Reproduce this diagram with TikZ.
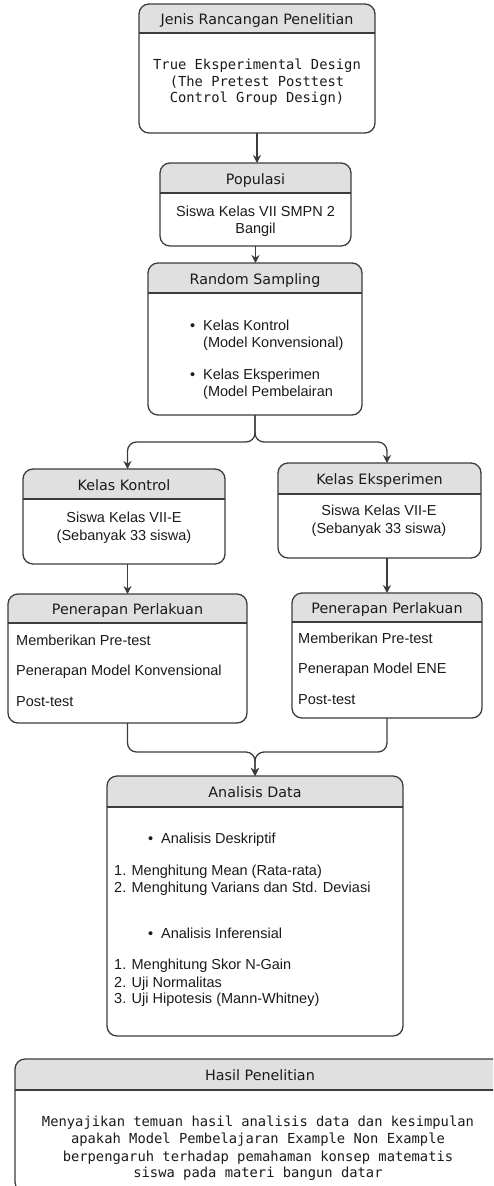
\documentclass[tikz,border=0pt]{standalone}
\usepackage{fontspec}
\setmainfont{Liberation Sans}
\newfontfamily\hdrfamily{DejaVu Sans}
\newfontfamily\codefamily{DejaVu Sans Mono}
\usetikzlibrary{arrows.meta}
\definecolor{hdrgray}{HTML}{E0E0E0}
\definecolor{edgecol}{HTML}{3C3C3C}
\definecolor{inkcol}{HTML}{1A1A1A}
\tikzset{
  boxshape/.style={draw=edgecol, line width=1.3pt, rounded corners=10pt, inner sep=0pt, outer sep=0pt},
  sepline/.style={draw=edgecol, line width=1.3pt},
  hdrtext/.style={inner sep=0pt, text=inkcol, font=\hdrfamily\fontsize{14.3}{17}\selectfont},
  bodytext/.style={inner sep=0pt, text=inkcol, font=\fontsize{14.5}{17}\selectfont},
  codetext/.style={inner sep=0pt, text=inkcol, font=\codefamily\fontsize{13.8}{17}\selectfont},
  conn/.style={draw=edgecol, line width=1.3pt, rounded corners=9pt},
  arr/.style={conn, -{Stealth[length=8pt,width=8pt]}},
}
% name, left, top, right, bottom, header bottom, title
\newcommand{\flowbox}[7]{%
  \begin{scope}
    \clip[rounded corners=10pt] (#2,#3) rectangle (#4,#5);
    \fill[hdrgray] (#2,#3) rectangle (#4,#6);
  \end{scope}
  \pgfmathsetmacro\bw{#4-#2}\pgfmathsetmacro\bh{#5-#3}
  \node[boxshape, minimum width=\bw pt, minimum height=\bh pt, anchor=north west] (#1) at (#2,#3) {};
  \draw[sepline] (#2,#6) -- (#4,#6);
  \pgfmathsetmacro\tx{(#2+#4)/2}\pgfmathsetmacro\ty{(#3+#6)/2+6}
  \node[hdrtext, anchor=base] (#1-title) at (\tx,\ty) {#7};
}
% style, anchor, name, x, baseline y, text
\newcommand{\tline}[6]{\node[#1, anchor=#2] (#3) at (#4,#5) {#6};}

\begin{document}
\begin{tikzpicture}[x=1pt, y=-1pt]
\clip (0,0) rectangle (493,1186);

\flowbox{jenis}{139}{4}{375}{133}{33}{Jenis Rancangan Penelitian}
\tline{codetext}{base}{j1}{257}{69}{True Eksperimental Design}
\tline{codetext}{base}{j2}{257}{86}{(The Pretest Posttest}
\tline{codetext}{base}{j3}{257}{102}{Control Group Design)}

\flowbox{pop}{160}{163}{351}{246}{193}{Populasi}
\tline{bodytext}{base}{p1}{255.5}{216}{Siswa Kelas VII SMPN 2}
\tline{bodytext}{base}{p2}{255.5}{233}{Bangil}

\flowbox{rs}{148}{263}{362}{415}{293}{Random Sampling}
\tline{bodytext}{base west}{r1b}{190}{330}{•}
\tline{bodytext}{base west}{r1}{203}{330}{Kelas Kontrol}
\tline{bodytext}{base west}{r2}{203}{347}{(Model Konvensional)}
\tline{bodytext}{base west}{r3b}{190}{379}{•}
\tline{bodytext}{base west}{r3}{203}{379}{Kelas Eksperimen}
\tline{bodytext}{base west}{r4}{203}{396}{(Model Pembelairan}

\flowbox{kon}{23}{469}{225}{564}{499}{Kelas Kontrol}
\tline{bodytext}{base}{k1}{124}{522}{Siswa Kelas VII-E}
\tline{bodytext}{base}{k2}{124}{540}{(Sebanyak 33 siswa)}

\flowbox{eks}{278}{463}{481}{558}{494}{Kelas Eksperimen}
\tline{bodytext}{base}{e1}{379}{515}{Siswa Kelas VII-E}
\tline{bodytext}{base}{e2}{379}{533}{(Sebanyak 33 siswa)}

\flowbox{penL}{8}{594}{247}{723}{623}{Penerapan Perlakuan}
\tline{bodytext}{base west}{pl1}{16}{645}{Memberikan Pre-test}
\tline{bodytext}{base west}{pl2}{16}{675}{Penerapan Model Konvensional}
\tline{bodytext}{base west}{pl3}{16}{706}{Post-test}

\flowbox{penR}{292}{593}{482}{718}{622}{Penerapan Perlakuan}
\tline{bodytext}{base west}{pr1}{298}{643}{Memberikan Pre-test}
\tline{bodytext}{base west}{pr2}{298}{673}{Penerapan Model ENE}
\tline{bodytext}{base west}{pr3}{298}{704}{Post-test}

\flowbox{ana}{107}{776}{403}{1036}{807}{Analisis Data}
\tline{bodytext}{base west}{a1b}{148}{843}{•}
\tline{bodytext}{base west}{a1}{161}{843}{Analisis Deskriptif}
\tline{bodytext}{base west}{a2}{114}{875}{1. Menghitung Mean (Rata-rata)}
\tline{bodytext}{base west}{a3}{114}{892}{2. Menghitung Varians dan Std. Deviasi}
\tline{bodytext}{base west}{a4b}{148}{938}{•}
\tline{bodytext}{base west}{a4}{161}{938}{Analisis Inferensial}
\tline{bodytext}{base west}{a5}{114}{969}{1. Menghitung Skor N-Gain}
\tline{bodytext}{base west}{a6}{114}{987}{2. Uji Normalitas}
\tline{bodytext}{base west}{a7}{114}{1003}{3. Uji Hipotesis (Mann-Whitney)}

\flowbox{has}{15}{1059}{505}{1192}{1090}{Hasil Penelitian}
\tline{codetext}{base}{h1}{258}{1126}{Menyajikan temuan hasil analisis data dan kesimpulan}
\tline{codetext}{base}{h2}{258}{1143}{apakah Model Pembelajaran Example Non Example}
\tline{codetext}{base}{h3}{258}{1161}{berpengaruh terhadap pemahaman konsep matematis}
\tline{codetext}{base}{h4}{258}{1177}{siswa pada materi bangun datar}

% connectors
\draw[arr] (jenis.south) -- (jenis.south |- pop.north);
\draw[arr] (pop.south) -- (pop.south |- rs.north);
\draw[arr] (rs.south) -- ++(0,27) -| (kon.north -| penL.north);
\draw[arr] (rs.south) -- ++(0,27) -| (eks.north -| penR.north);
\draw[arr] (kon.south -| penL.north) -- (penL.north);
\draw[arr] (eks.south -| penR.north) -- (penR.north);
\coordinate (merge) at (ana.north |- 0,752);
\draw[arr] (penL.south) |- (merge) -- (ana.north);
\draw[arr] (penR.south) |- (merge) -- (ana.north);
\end{tikzpicture}
\end{document}
